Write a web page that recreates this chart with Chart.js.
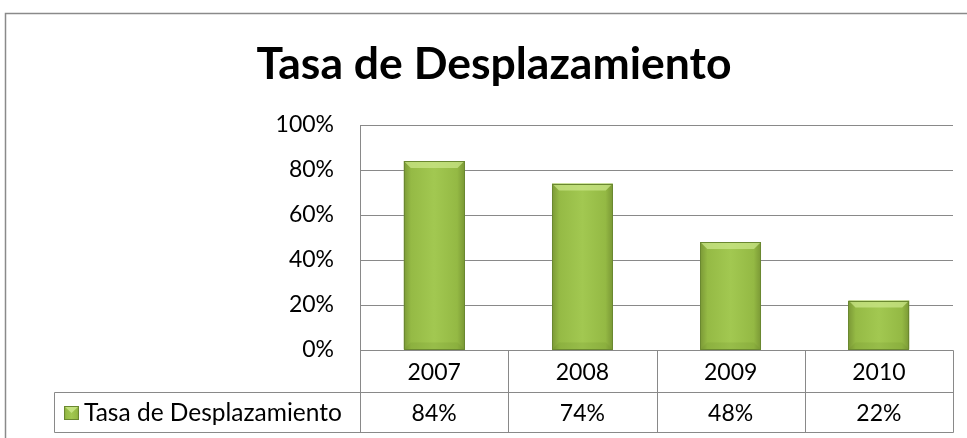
<!DOCTYPE html>
<html lang="es">
<head>
    <meta charset="UTF-8">
    <title>Tasa de Desplazamiento</title>
    <script src="https://cdn.jsdelivr.net/npm/chart.js@4"></script>
    <style>
        html, body { margin: 0; padding: 0; background: #fff; }
        canvas { display: block; }
    </style>
</head>
<body>
    <canvas id="tasaChart" width="967" height="438"></canvas>

    <script>
        // datos
        const titulo = 'Tasa de Desplazamiento';
        const anios = ['2007', '2008', '2009', '2010'];
        const tasa = [84, 74, 48, 22];
        const ticksY = [0, 20, 40, 60, 80, 100];

        const fuente = 'Lato, "DejaVu Sans", sans-serif';
        const gris = '#898989';

        function degradado(ctx, izq, der) {
            const g = ctx.createLinearGradient(izq, 0, der, 0);
            g.addColorStop(0, '#7b9936');
            g.addColorStop(0.12, '#95ba45');
            g.addColorStop(0.5, '#a2c851');
            g.addColorStop(0.88, '#94b944');
            g.addColorStop(1, '#7a9835');
            return g;
        }

        // marco exterior y titulo
        const marcoPlugin = {
            id: 'marco',
            beforeDraw(chart) {
                const ctx = chart.ctx;
                ctx.save();
                ctx.fillStyle = '#fff';
                ctx.fillRect(0, 0, chart.width, chart.height);
                ctx.strokeStyle = '#8a8a8a';
                ctx.lineWidth = 1.5;
                ctx.strokeRect(5.5, 13.5, chart.width + 50, chart.height + 50);
                ctx.fillStyle = '#000';
                ctx.font = 'bold 44.5px ' + fuente;
                ctx.textAlign = 'center';
                ctx.textBaseline = 'alphabetic';
                ctx.fillText(titulo, 494, 79);
                ctx.restore();
            }
        };

        // bisel de las barras
        const biselPlugin = {
            id: 'bisel',
            afterDatasetsDraw(chart) {
                const ctx = chart.ctx;
                const b = 7;
                chart.getDatasetMeta(0).data.forEach(bar => {
                    const p = bar.getProps(['x', 'y', 'base', 'width'], true);
                    const l = p.x - p.width / 2, r = p.x + p.width / 2;
                    ctx.save();
                    ctx.beginPath();
                    ctx.moveTo(l, p.y); ctx.lineTo(r, p.y);
                    ctx.lineTo(r - b, p.y + b); ctx.lineTo(l + b, p.y + b);
                    ctx.closePath();
                    ctx.fillStyle = 'rgba(205, 232, 140, 0.7)';
                    ctx.fill();
                    ctx.beginPath();
                    ctx.moveTo(l, p.base); ctx.lineTo(r, p.base);
                    ctx.lineTo(r - b, p.base - b); ctx.lineTo(l + b, p.base - b);
                    ctx.closePath();
                    ctx.fillStyle = 'rgba(95, 125, 35, 0.15)';
                    ctx.fill();
                    ctx.strokeStyle = '#6a8830';
                    ctx.lineWidth = 1;
                    ctx.strokeRect(Math.round(l) + 0.5, Math.round(p.y) + 0.5, Math.round(p.width) - 1, Math.round(p.base - p.y) - 1);
                    ctx.restore();
                });
            }
        };

        // tabla de datos bajo el eje
        const tablaPlugin = {
            id: 'tabla',
            afterDraw(chart) {
                const ctx = chart.ctx;
                const x = chart.scales.x;
                const area = chart.chartArea;
                const ancho = area.width / anios.length;
                const y0 = Math.round(area.bottom) + 0.5;
                const y1 = y0 + 42, y2 = y1 + 40;
                const izqLeyenda = 54.5;
                const izq = Math.round(area.left) + 0.5;

                ctx.save();
                ctx.strokeStyle = gris;
                ctx.lineWidth = 1;
                ctx.beginPath();
                ctx.moveTo(izq, y0); ctx.lineTo(area.right + 0.5, y0);
                ctx.moveTo(izqLeyenda, y1); ctx.lineTo(area.right + 0.5, y1);
                ctx.moveTo(izqLeyenda, y2); ctx.lineTo(area.right + 0.5, y2);
                ctx.moveTo(izqLeyenda, y1); ctx.lineTo(izqLeyenda, y2);
                for (let i = 0; i <= anios.length; i++) {
                    const xl = Math.round(area.left + i * ancho) + 0.5;
                    ctx.moveTo(xl, y0); ctx.lineTo(xl, y2);
                }
                ctx.stroke();

                ctx.fillStyle = '#000';
                ctx.font = '23px ' + fuente;
                ctx.textBaseline = 'middle';
                ctx.textAlign = 'center';
                anios.forEach((a, i) => {
                    const cx = x.getPixelForValue(i);
                    ctx.fillText(a, cx, (y0 + y1) / 2 + 1);
                    ctx.fillText(tasa[i] + '%', cx, (y1 + y2) / 2 + 1);
                });

                // clave de la leyenda
                const kx = 64, ky = 406;
                ctx.fillStyle = degradado(ctx, kx, kx + 15);
                ctx.fillRect(kx, ky, 15, 14);
                ctx.fillStyle = 'rgba(205, 232, 140, 0.8)';
                ctx.beginPath();
                ctx.moveTo(kx, ky); ctx.lineTo(kx + 15, ky); ctx.lineTo(kx + 7.5, ky + 7);
                ctx.closePath();
                ctx.fill();
                ctx.strokeStyle = '#6a8830';
                ctx.strokeRect(kx + 0.5, ky + 0.5, 14, 13);

                ctx.fillStyle = '#000';
                ctx.font = '24.5px ' + fuente;
                ctx.textAlign = 'left';
                ctx.fillText(titulo, 84, (y1 + y2) / 2 + 1);
                ctx.restore();
            }
        };

        const ctx = document.getElementById('tasaChart').getContext('2d');
        new Chart(ctx, {
            type: 'bar',
            data: {
                labels: anios,
                datasets: [{
                    label: titulo,
                    data: tasa,
                    barPercentage: 0.41,
                    categoryPercentage: 1,
                    borderWidth: 0,
                    backgroundColor: function(context) {
                        const chart = context.chart;
                        if (!chart.chartArea || !chart.scales.x) return '#9bbb59';
                        const ancho = chart.chartArea.width / anios.length * 0.41;
                        const cx = chart.scales.x.getPixelForValue(context.dataIndex);
                        return degradado(chart.ctx, cx - ancho / 2, cx + ancho / 2);
                    }
                }]
            },
            options: {
                responsive: false,
                animation: false,
                layout: {
                    padding: { top: 125, right: 14, bottom: 88, left: 0 }
                },
                plugins: {
                    legend: { display: false },
                    title: { display: false },
                    tooltip: { enabled: false }
                },
                scales: {
                    x: {
                        display: false
                    },
                    y: {
                        min: ticksY[0],
                        max: ticksY[ticksY.length - 1],
                        afterFit(scale) { scale.width = 360; },
                        afterBuildTicks(scale) {
                            scale.ticks = ticksY.map(v => ({ value: v }));
                        },
                        ticks: {
                            padding: 26,
                            color: '#000',
                            font: { family: fuente, size: 23 },
                            callback: v => v + '%'
                        },
                        grid: {
                            color: gris,
                            lineWidth: 1,
                            drawTicks: false
                        },
                        border: { display: true, color: gris, width: 1 }
                    }
                }
            },
            plugins: [marcoPlugin, biselPlugin, tablaPlugin]
        });
    </script>
</body>
</html>
